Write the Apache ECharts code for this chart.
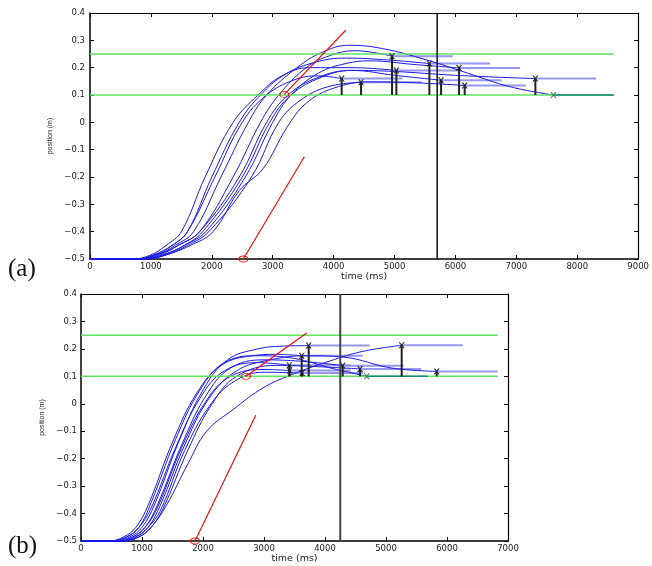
<!DOCTYPE html>
<html><head><meta charset="utf-8">
<script src="https://cdn.jsdelivr.net/npm/echarts/dist/echarts.min.js"></script>
<style>html,body{margin:0;padding:0;background:#fff}#c{width:652px;height:566px}</style>
</head><body><div id="c"></div>
<script>
// ---------- Panel (a) data ----------
const aXMax = 9000;
const aCurves = [
 [[0,-0.5],[800,-0.5],[1100,-0.485],[1400,-0.45],[1700,-0.4],[2150,-0.2],[2600,0],[2900,0.1],[3400,0.2],[3800,0.255],[4250,0.282],[4800,0.27],[5500,0.23],[6200,0.18],[6900,0.13]],
 [[0,-0.5],[850,-0.5],[1150,-0.485],[1450,-0.45],[1800,-0.4],[2350,-0.2],[2800,0],[3100,0.1],[3550,0.2],[3950,0.245],[4350,0.262]],
 [[0,-0.5],[750,-0.5],[1050,-0.485],[1350,-0.45],[1600,-0.4],[2000,-0.2],[2450,0],[2800,0.1],[3200,0.175],[3700,0.22],[4200,0.235],[4900,0.228]],
 [[0,-0.5],[900,-0.5],[1200,-0.485],[1550,-0.45],[1900,-0.4],[2550,-0.2],[3000,0],[3300,0.1],[3750,0.18],[4200,0.215],[4600,0.225],[5300,0.212]],
 [[0,-0.5],[700,-0.5],[1000,-0.485],[1250,-0.45],[1500,-0.4],[1890,-0.2],[2350,0],[2760,0.1],[3150,0.17],[3600,0.2],[4300,0.2]],
 [[0,-0.5],[750,-0.5],[1050,-0.485],[1350,-0.45],[1600,-0.4],[2050,-0.2],[2500,0],[2900,0.1],[3350,0.155],[3750,0.17]],
 [[0,-0.5],[900,-0.5],[1250,-0.485],[1600,-0.45],[1950,-0.4],[2650,-0.2],[3100,0],[3450,0.08],[3900,0.13]],
 [[0,-0.5],[800,-0.5],[1100,-0.485],[1450,-0.45],[1800,-0.4],[2450,-0.2],[2900,0],[3250,0.1],[3750,0.165],[4300,0.19],[5000,0.172]],
 [[0,-0.5],[900,-0.5],[1250,-0.485],[1650,-0.45],[2020,-0.4],[2450,-0.25],[2840,-0.17],[3230,-0.02],[3550,0.07],[4000,0.125],[4600,0.148],[5300,0.145]],
 [[0,-0.5],[850,-0.5],[1200,-0.485],[1550,-0.45],[1850,-0.4],[2500,-0.2],[2950,0],[3300,0.1],[3800,0.165],[4300,0.19],[5000,0.186],[6000,0.172]]
];
const aStemT = [7608, 4959, 5572, 6059, 5030, 4132, 4450, 5764, 6152, 7312];
const aStemV = [0.10, 0.242, 0.215, 0.199, 0.190, 0.160, 0.147, 0.154, 0.135, 0.160];
const aExtEnd = [8600, 5955, 6568, 7061, 6030, 5130, 5446, 6760, 7155, 8309];
const aGreenLevels = [0.25, 0.1];
const aGreenEnd = 8600;
const aVertT = 5700;
const aRed = [[[2517,-0.5],[3519,-0.126]], [[3190,0.102],[4199,0.337]]];

// ---------- Panel (b) data ----------
const bXMax = 7000;
const bCurves = [
 [[0,-0.5],[500,-0.5],[750,-0.485],[950,-0.45],[1150,-0.38],[1550,-0.16],[1950,0.02],[2350,0.12],[2900,0.15]],
 [[0,-0.5],[600,-0.5],[850,-0.485],[1050,-0.45],[1250,-0.38],[1650,-0.16],[2050,0.01],[2450,0.1],[3000,0.125]],
 [[0,-0.5],[450,-0.5],[700,-0.485],[900,-0.45],[1100,-0.37],[1500,-0.14],[1900,0.04],[2300,0.14],[2800,0.175],[3200,0.18]],
 [[0,-0.5],[650,-0.5],[900,-0.485],[1100,-0.45],[1300,-0.39],[1700,-0.17],[2100,-0.01],[2500,0.08],[3000,0.115]],
 [[0,-0.5],[550,-0.5],[800,-0.485],[1000,-0.45],[1200,-0.37],[1600,-0.14],[2000,0.05],[2400,0.16],[2900,0.2],[3300,0.21]],
 [[0,-0.5],[600,-0.5],[850,-0.485],[1050,-0.45],[1250,-0.37],[1650,-0.15],[2050,0.03],[2450,0.13],[3000,0.16],[3600,0.155]],
 [[0,-0.5],[700,-0.5],[950,-0.485],[1150,-0.45],[1350,-0.38],[1750,-0.17],[2150,0.0],[2550,0.1],[3200,0.14],[3900,0.135]],
 [[0,-0.5],[500,-0.5],[750,-0.485],[950,-0.45],[1150,-0.36],[1550,-0.13],[1950,0.05],[2350,0.15],[2900,0.175],[3500,0.165],[4100,0.13]],
 [[0,-0.5],[700,-0.5],[950,-0.485],[1150,-0.45],[1400,-0.37],[1750,-0.22],[2060,-0.1],[2500,-0.02],[3000,0.06],[3500,0.11],[4000,0.15],[4600,0.19]],
 [[0,-0.5],[650,-0.5],[900,-0.485],[1100,-0.45],[1300,-0.37],[1700,-0.15],[2100,0.02],[2550,0.12],[3100,0.16],[3700,0.175],[4300,0.17],[5100,0.13]]
];
const bStemT = [3415, 3420, 3618, 3625, 3733, 4290, 4574, 4684, 5257, 5831];
const bStemV = [0.140, 0.121, 0.175, 0.112, 0.212, 0.139, 0.127, 0.100, 0.213, 0.118];
const bExtEnd = [4415, 4420, 4618, 4625, 4733, 5290, 5574, 5684, 6257, 6831];
const bGreenLevels = [0.25, 0.1];
const bGreenEnd = 6830;
const bVertT = 4250;
const bRed = [[[1869,-0.5],[2864,-0.042]], [[2705,0.1],[3700,0.258]]];

const yMin = -0.5, yMax = 0.4, yStep = 0.1, xStep = 1000;
const stemBase = 0.1;

// ---------- styles ----------
const BLUE = '#1a1ae6', EXT = '#8585f2', GREEN = '#5fe35f', TEAL = '#138a78', RED = '#ee1111';
const XMARK = 'path://M0,0 L2.2,0 L5,3.6 L7.8,0 L10,0 L6.2,5 L10,10 L7.8,10 L5,6.4 L2.2,10 L0,10 L3.8,5 Z';
const labelFont = {fontFamily:'DejaVu Sans', fontSize:8.5, color:'#222'};

function yFmt(v){ const r = Math.round(v*10)/10; if (r===0) return '0'; return (r<0?'\u2212':'') + Math.abs(r).toFixed(1); }
function xFmt(v){ return String(Math.round(v)); }

function xAxes(gi, max){
  return [
    {type:'value', gridIndex:gi, min:0, max:max, interval:xStep, position:'bottom',
     axisLine:{show:true, onZero:false, lineStyle:{color:'#000', width:1.5}},
     axisTick:{show:true, inside:true, length:4, lineStyle:{color:'#000'}},
     axisLabel:Object.assign({margin:3, formatter:xFmt}, labelFont), splitLine:{show:false},
     name:'time (ms)', nameLocation:'middle', nameGap:11,
     nameTextStyle:{fontFamily:'DejaVu Sans', fontSize:9.5, color:'#222'}},
    {type:'value', gridIndex:gi, min:0, max:max, interval:xStep, position:'top',
     axisLine:{show:true, onZero:false, lineStyle:{color:'#000', width:1.2}},
     axisTick:{show:true, inside:true, length:4, lineStyle:{color:'#000'}},
     axisLabel:{show:false}, splitLine:{show:false}}
  ];
}
function yAxes(gi, gap, margin){
  return [
    {type:'value', gridIndex:gi, min:yMin, max:yMax, interval:yStep, position:'left',
     axisLine:{show:true, onZero:false, lineStyle:{color:'#000', width:1.5}},
     axisTick:{show:true, inside:true, length:4, lineStyle:{color:'#000'}},
     axisLabel:Object.assign({margin:margin, formatter:yFmt}, labelFont), splitLine:{show:false},
     name:'position (m)', nameLocation:'middle', nameGap:gap, nameRotate:90,
     nameTextStyle:{fontFamily:'Liberation Sans', fontSize:7, color:'#222'}},
    {type:'value', gridIndex:gi, min:yMin, max:yMax, interval:yStep, position:'right',
     axisLine:{show:true, onZero:false, lineStyle:{color:'#000', width:1.2}},
     axisTick:{show:true, inside:true, length:4, lineStyle:{color:'#000'}},
     axisLabel:{show:false}, splitLine:{show:false}}
  ];
}

function panelSeries(xi, yi, curves, stemT, stemV, extEnd, greens, greenEnd, vertT, reds){
  const s = [];
  const base = {type:'line', xAxisIndex:xi, yAxisIndex:yi, animation:false, silent:true};
  curves.forEach((c, i) => {
    s.push(Object.assign({}, base, {data: c.concat([[stemT[i], stemV[i]]]), smooth:0.4,
      showSymbol:false, symbol:'none', clip:false, lineStyle:{color:BLUE, width:1}, z:3}));
  });
  curves.forEach((c, i) => {
    const flat = stemV[i] <= stemBase;
    s.push(Object.assign({}, base, {data:[[stemT[i], stemV[i]],[extEnd[i], stemV[i]]], showSymbol:false, symbol:'none',
      lineStyle:{color: flat ? TEAL : EXT, width: flat ? 1.5 : 2, opacity: flat ? 1 : 0.85}, z: flat ? 6 : 2}));
  });
  greens.forEach(g => {
    s.push(Object.assign({}, base, {data:[[0,g],[greenEnd,g]], showSymbol:false, symbol:'none',
      lineStyle:{color:GREEN, width:1.5}, z:4}));
  });
  stemT.forEach((t, i) => {
    const flat = stemV[i] <= stemBase;
    s.push(Object.assign({}, base, {data:[{value:[t, stemBase], symbol:'none'}, {value:[t, stemV[i]], symbol:XMARK, symbolSize:6}],
      showSymbol:true, lineStyle:{color:'#222', width:2},
      itemStyle:{color: flat ? '#2e8b57' : '#222'}, z:7}));
  });
  reds.forEach(r => {
    s.push(Object.assign({}, base, {data:[{value:r[0], symbol:'circle', symbolSize:[9,6]}, {value:r[1], symbol:'none'}],
      showSymbol:true, lineStyle:{color:RED, width:1.2},
      itemStyle:{color:'rgba(255,255,255,0)', borderColor:RED, borderWidth:1}, z:8}));
  });
  s.push(Object.assign({}, base, {data:[[vertT, yMin],[vertT, yMax]], showSymbol:false, symbol:'none',
    lineStyle:{color: xi===0 ? '#111' : '#444', width: xi===0 ? 1.5 : 2}, z:9}));
  return s;
}

const chart = echarts.init(document.getElementById('c'), null, {renderer:'canvas'});
chart.setOption({
  animation:false,
  backgroundColor:'#fff',
  grid:[
    {left:90, top:13, width:549, height:246},
    {left:81, top:294, width:427, height:247}
  ],
  xAxis: xAxes(0, aXMax).concat(xAxes(1, bXMax)),
  yAxis: yAxes(0, 34, 5).concat(yAxes(1, 25, 4)),
  graphic:[
    {type:'text', left:8, top:257, style:{text:'(a)', font:'25px "Liberation Serif"', fill:'#111'}},
    {type:'text', left:8, top:534, style:{text:'(b)', font:'25px "Liberation Serif"', fill:'#111'}}
  ],
  series: panelSeries(0, 0, aCurves, aStemT, aStemV, aExtEnd, aGreenLevels, aGreenEnd, aVertT, aRed)
    .concat(panelSeries(2, 2, bCurves, bStemT, bStemV, bExtEnd, bGreenLevels, bGreenEnd, bVertT, bRed))
});
</script></body></html>
